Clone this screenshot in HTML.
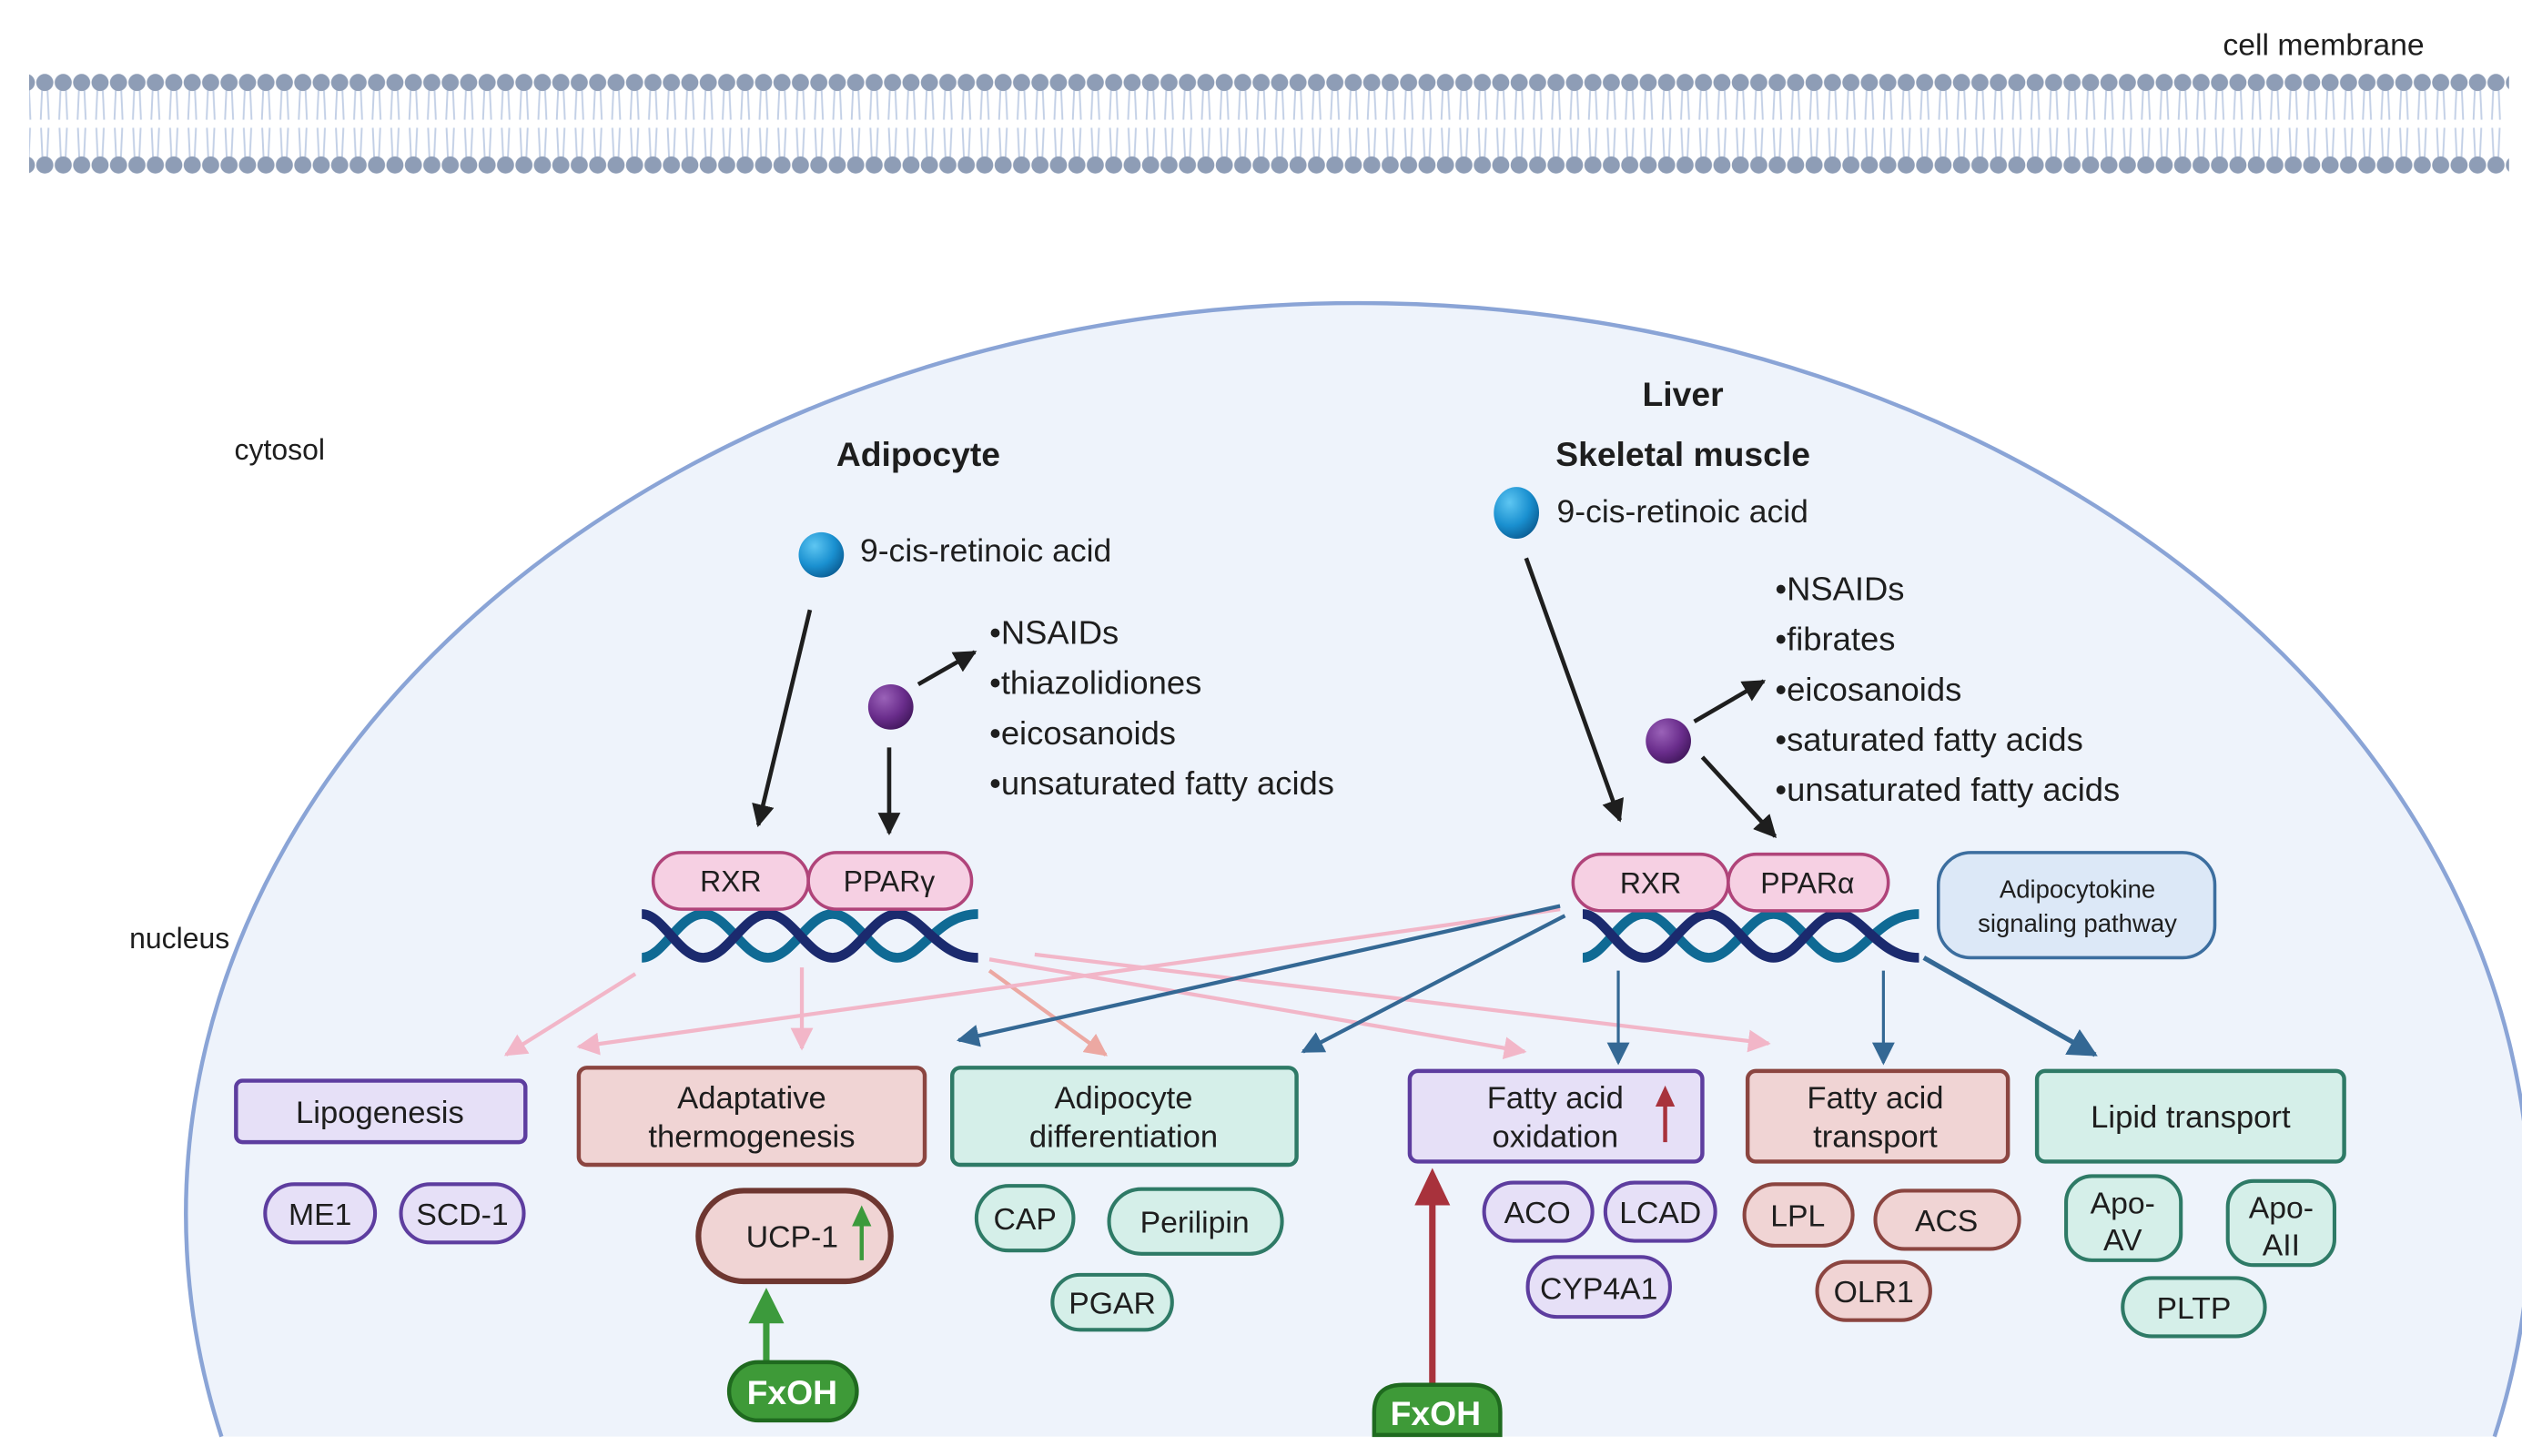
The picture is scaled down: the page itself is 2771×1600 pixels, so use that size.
<!DOCTYPE html>
<html><head><meta charset="utf-8"><style>
html,body{margin:0;padding:0;background:#fff;width:2771px;height:1600px;overflow:hidden}
svg{display:block}
text{font-family:"Liberation Sans",sans-serif;fill:#1e1e1e}
</style></head><body>
<svg width="2771" height="1600" viewBox="0 0 1560 900" preserveAspectRatio="none" xmlns="http://www.w3.org/2000/svg">
<defs>
<pattern id="mem" x="22" y="0" width="11.4" height="120" patternUnits="userSpaceOnUse">
<path d="M4 56 L3.2 74 M7.4 56 L8.2 74 M3.4 79 L4.2 97 M8 79 L7.2 97" stroke="#c3d0e6" stroke-width="1.1" fill="none"/>
<circle cx="5.7" cy="51" r="5.3" fill="#8e9db6"/>
<circle cx="5.7" cy="102" r="5.3" fill="#8e9db6"/>
</pattern>
<marker id="abk" viewBox="0 0 10 10" markerWidth="14" markerHeight="14" refX="9" refY="5" orient="auto" markerUnits="userSpaceOnUse"><path d="M0,0 L10,5 L0,10z" fill="#1e1e1e"/></marker>
<marker id="apk" viewBox="0 0 10 10" markerWidth="14" markerHeight="14" refX="9" refY="5" orient="auto" markerUnits="userSpaceOnUse"><path d="M0,0 L10,5 L0,10z" fill="#f2b6c8"/></marker>
<marker id="aso" viewBox="0 0 10 10" markerWidth="14" markerHeight="14" refX="9" refY="5" orient="auto" markerUnits="userSpaceOnUse"><path d="M0,0 L10,5 L0,10z" fill="#eca8a2"/></marker>
<marker id="abl" viewBox="0 0 10 10" markerWidth="14" markerHeight="14" refX="9" refY="5" orient="auto" markerUnits="userSpaceOnUse"><path d="M0,0 L10,5 L0,10z" fill="#346894"/></marker>
<marker id="abl2" viewBox="0 0 10 10" markerWidth="18" markerHeight="18" refX="9" refY="5" orient="auto" markerUnits="userSpaceOnUse"><path d="M0,0 L10,5 L0,10z" fill="#346894"/></marker>
<radialGradient id="gb" cx="0.35" cy="0.3" r="0.75"><stop offset="0" stop-color="#5ec6f2"/><stop offset="0.6" stop-color="#1a90d0"/><stop offset="1" stop-color="#0b5f96"/></radialGradient>
<radialGradient id="gp" cx="0.35" cy="0.3" r="0.75"><stop offset="0" stop-color="#9a62b8"/><stop offset="0.6" stop-color="#6a2d8c"/><stop offset="1" stop-color="#43185e"/></radialGradient>
</defs>
<rect x="18" y="40" width="1534" height="72" fill="url(#mem)"/>
<text x="1375" y="34" font-size="19">cell membrane</text>
<path d="M137 888 A725 563 0 1 1 1543 888 Z" fill="#eef3fb"/>
<path d="M137 888 A725 563 0 1 1 1543 888" fill="none" stroke="#8aa4d6" stroke-width="2.5"/>
<text x="145" y="284" font-size="18">cytosol</text>
<text x="80" y="586" font-size="18">nucleus</text>
<text x="568" y="288" font-size="21" font-weight="bold" text-anchor="middle">Adipocyte</text>
<text x="1041" y="251" font-size="21" font-weight="bold" text-anchor="middle">Liver</text>
<text x="1041" y="288" font-size="21" font-weight="bold" text-anchor="middle">Skeletal muscle</text>
<circle cx="508" cy="343" r="14" fill="url(#gb)"/>
<text x="532" y="347" font-size="20">9-cis-retinoic acid</text>
<ellipse cx="938" cy="317" rx="14" ry="16" fill="url(#gb)"/>
<text x="963" y="323" font-size="20">9-cis-retinoic acid</text>
<circle cx="551" cy="437" r="14" fill="url(#gp)"/>
<circle cx="1032" cy="458" r="14" fill="url(#gp)"/>
<g font-size="20.5">
<text x="612" y="398">•NSAIDs</text><text x="612" y="429">•thiazolidiones</text><text x="612" y="460">•eicosanoids</text><text x="612" y="491">•unsaturated fatty acids</text>
<text x="1098" y="371">•NSAIDs</text><text x="1098" y="402">•fibrates</text><text x="1098" y="433">•eicosanoids</text><text x="1098" y="464">•saturated fatty acids</text><text x="1098" y="495">•unsaturated fatty acids</text>
</g>
<g stroke="#1e1e1e" stroke-width="2.6" fill="none">
<line x1="501" y1="377" x2="469" y2="510" marker-end="url(#abk)"/>
<line x1="550" y1="462" x2="550" y2="515" marker-end="url(#abk)"/>
<line x1="568" y1="423" x2="603" y2="403" marker-end="url(#abk)"/>
<line x1="944" y1="345" x2="1002" y2="507" marker-end="url(#abk)"/>
<line x1="1048" y1="446" x2="1091" y2="421" marker-end="url(#abk)"/>
<line x1="1053" y1="468" x2="1098" y2="517" marker-end="url(#abk)"/>
</g>
<g fill="none" stroke-width="2.4">
<line x1="393" y1="602" x2="313" y2="652" stroke="#f2b6c8" marker-end="url(#apk)"/>
<line x1="496" y1="598" x2="496" y2="648" stroke="#f2b6c8" marker-end="url(#apk)"/>
<line x1="612" y1="600" x2="684" y2="652" stroke="#eca8a2" marker-end="url(#aso)"/>
<line x1="965" y1="562" x2="358" y2="647" stroke="#f2b6c8" marker-end="url(#apk)"/>
<line x1="612" y1="593" x2="943" y2="650" stroke="#f2b6c8" marker-end="url(#apk)"/>
<line x1="640" y1="590" x2="1094" y2="645" stroke="#f2b6c8" marker-end="url(#apk)"/>
<line x1="965" y1="560" x2="593" y2="643" stroke="#346894" marker-end="url(#abl)"/>
<line x1="968" y1="566" x2="806" y2="650" stroke="#346894" marker-end="url(#abl)"/>
<line x1="1001" y1="600" x2="1001" y2="657" stroke="#346894" stroke-width="1.8" marker-end="url(#abl)"/>
<line x1="1165" y1="600" x2="1165" y2="657" stroke="#346894" stroke-width="1.8" marker-end="url(#abl)"/>
<line x1="1190" y1="592" x2="1296" y2="652" stroke="#346894" stroke-width="3" marker-end="url(#abl2)"/>
</g>
<g fill="none" stroke-width="6">
<path d="M397 592 C410 592 420 565 435 565 S460 592 475 592 S500 565 515 565 S540 592 555 592 S580 565 605 565" stroke="#0f6a94"/>
<path d="M397 565 C410 565 420 592 435 592 S460 565 475 565 S500 592 515 592 S540 565 555 565 S580 592 605 592" stroke="#1b2a6e"/>
<path d="M979 592 C992 592 1002 565 1017 565 S1042 592 1057 592 S1082 565 1097 565 S1122 592 1137 592 S1162 565 1187 565" stroke="#0f6a94"/>
<path d="M979 565 C992 565 1002 592 1017 592 S1042 565 1057 565 S1082 592 1097 592 S1122 565 1137 565 S1162 592 1187 592" stroke="#1b2a6e"/>
</g>
<g fill="#f6d0e3" stroke="#b0447a" stroke-width="2">
<rect x="404" y="527" width="96" height="35" rx="17.5"/>
<rect x="500" y="527" width="101" height="35" rx="17.5"/>
<rect x="973" y="528" width="96" height="35" rx="17.5"/>
<rect x="1069" y="528" width="99" height="35" rx="17.5"/>
</g>
<g font-size="18" text-anchor="middle">
<text x="452" y="551">RXR</text><text x="550" y="551">PPARγ</text>
<text x="1021" y="552">RXR</text><text x="1118" y="552">PPARα</text>
</g>
<rect x="1199" y="527" width="171" height="65" rx="20" fill="#dce8f7" stroke="#3c6e9f" stroke-width="2"/>
<text x="1285" y="555" font-size="15.5" text-anchor="middle">Adipocytokine</text>
<text x="1285" y="576" font-size="15.5" text-anchor="middle">signaling pathway</text>
<g stroke-width="2.5">
<rect x="146" y="668" width="179" height="38" rx="4" fill="#e6e0f7" stroke="#5d3d9f"/>
<rect x="358" y="660" width="214" height="60" rx="5" fill="#f0d4d4" stroke="#8b4540"/>
<rect x="589" y="660" width="213" height="60" rx="5" fill="#d5efe9" stroke="#2e7a66"/>
<rect x="872" y="662" width="181" height="56" rx="5" fill="#e6e0f7" stroke="#5d3d9f"/>
<rect x="1081" y="662" width="161" height="56" rx="5" fill="#f0d4d4" stroke="#8b4540"/>
<rect x="1260" y="662" width="190" height="56" rx="5" fill="#d5efe9" stroke="#2e7a66"/>
</g>
<g font-size="19.5" text-anchor="middle">
<text x="235" y="694">Lipogenesis</text>
<text x="465" y="685">Adaptative</text><text x="465" y="709">thermogenesis</text>
<text x="695" y="685">Adipocyte</text><text x="695" y="709">differentiation</text>
<text x="962" y="685">Fatty acid</text><text x="962" y="709">oxidation</text>
<text x="1160" y="685">Fatty acid</text><text x="1160" y="709">transport</text>
<text x="1355" y="697">Lipid transport</text>
</g>
<g stroke-width="2.3">
<rect x="164" y="732" width="68" height="36" rx="18" fill="#e6e0f7" stroke="#5d3d9f"/>
<rect x="248" y="732" width="76" height="36" rx="18" fill="#e6e0f7" stroke="#5d3d9f"/>
<rect x="432" y="736" width="119" height="56" rx="28" fill="#f0d4d4" stroke="#6e3630" stroke-width="3.5"/>
<rect x="604" y="733" width="60" height="40" rx="20" fill="#d5efe9" stroke="#2e7a66"/>
<rect x="686" y="735" width="107" height="40" rx="20" fill="#d5efe9" stroke="#2e7a66"/>
<rect x="651" y="788" width="74" height="34" rx="17" fill="#d5efe9" stroke="#2e7a66"/>
<rect x="918" y="731" width="67" height="36" rx="18" fill="#e6e0f7" stroke="#5d3d9f"/>
<rect x="993" y="731" width="68" height="36" rx="18" fill="#e6e0f7" stroke="#5d3d9f"/>
<rect x="945" y="777" width="88" height="37" rx="18" fill="#e6e0f7" stroke="#5d3d9f"/>
<rect x="1079" y="732" width="67" height="38" rx="19" fill="#f0d4d4" stroke="#8b4540"/>
<rect x="1160" y="736" width="89" height="36" rx="18" fill="#f0d4d4" stroke="#8b4540"/>
<rect x="1124" y="780" width="70" height="36" rx="18" fill="#f0d4d4" stroke="#8b4540"/>
<rect x="1278" y="727" width="71" height="52" rx="16" fill="#d5efe9" stroke="#2e7a66"/>
<rect x="1378" y="730" width="66" height="52" rx="16" fill="#d5efe9" stroke="#2e7a66"/>
<rect x="1313" y="790" width="88" height="36" rx="18" fill="#d5efe9" stroke="#2e7a66"/>
</g>
<g font-size="19" text-anchor="middle">
<text x="198" y="757">ME1</text><text x="286" y="757">SCD-1</text>
<text x="490" y="771">UCP-1</text>
<text x="634" y="760">CAP</text><text x="739" y="762">Perilipin</text><text x="688" y="812">PGAR</text>
<text x="951" y="756">ACO</text><text x="1027" y="756">LCAD</text><text x="989" y="803">CYP4A1</text>
<text x="1112" y="758">LPL</text><text x="1204" y="761">ACS</text><text x="1159" y="805">OLR1</text>
<text x="1313" y="750">Apo-</text><text x="1313" y="773">AV</text>
<text x="1411" y="753">Apo-</text><text x="1411" y="776">AII</text>
<text x="1357" y="815">PLTP</text>
</g>
<line x1="533" y1="779" x2="533" y2="756" stroke="#3c9a3c" stroke-width="2.5"/>
<path d="M527 758 L533 745 L539 758z" fill="#3c9a3c"/>
<line x1="1030" y1="706" x2="1030" y2="682" stroke="#a8323c" stroke-width="2.5"/>
<path d="M1024 684 L1030 671 L1036 684z" fill="#a8323c"/>
<line x1="474" y1="843" x2="474" y2="815" stroke="#3c9a3c" stroke-width="4"/>
<path d="M463 818 L474 796 L485 818z" fill="#3c9a3c"/>
<rect x="451" y="842" width="79" height="36" rx="18" fill="#3e9a38" stroke="#1f6a1f" stroke-width="2.5"/>
<text x="490" y="868" font-size="21" font-weight="bold" text-anchor="middle" style="fill:#fff">FxOH</text>
<line x1="886" y1="856" x2="886" y2="740" stroke="#a8323c" stroke-width="4"/>
<path d="M875 745 L886 722 L897 745z" fill="#a8323c"/>
<path d="M850 887 L850 873 Q850 856 868 856 L910 856 Q928 856 928 873 L928 887 Z" fill="#3e9a38" stroke="#1f6a1f" stroke-width="2.5"/>
<text x="888" y="881" font-size="21" font-weight="bold" text-anchor="middle" style="fill:#fff">FxOH</text>
</svg>
</body></html>
